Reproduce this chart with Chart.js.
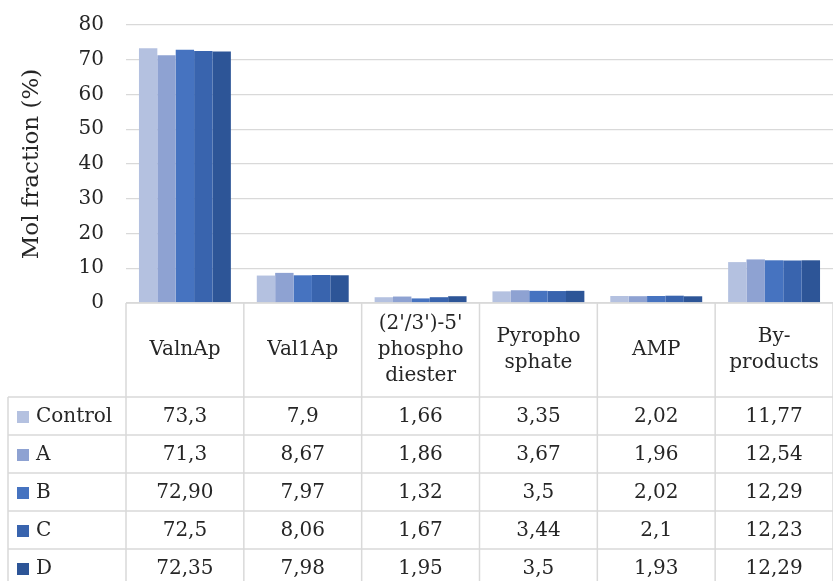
<!DOCTYPE html>
<html>
<head>
<meta charset="utf-8">
<script src="https://cdn.jsdelivr.net/npm/chart.js@4/dist/chart.umd.min.js"></script>
<style>
  html, body { margin: 0; padding: 0; background: #fff; }
  #wrap { width: 833px; height: 581px; }
</style>
</head>
<body>
<div id="wrap"><canvas id="chart"></canvas></div>
<script>
// categories (header lines of the table)
const categories = [
    ['ValnAp'],
    ['Val1Ap'],
    ["(2'/3')-5'", 'phospho', 'diester'],
    ['Pyropho', 'sphate'],
    ['AMP'],
    ['By-', 'products'],
];
const seriesNames = ['Control', 'A', 'B', 'C', 'D'];
const seriesColors = ['#b4c1e0', '#8ea2d2', '#4673c0', '#3964ae', '#2d5597'];

// values as printed in the table
const control = ['73,3', '7,9', '1,66', '3,35', '2,02', '11,77'];
const seriesA = ['71,3', '8,67', '1,86', '3,67', '1,96', '12,54'];
const seriesB = ['72,90', '7,97', '1,32', '3,5', '2,02', '12,29'];
const seriesC = ['72,5', '8,06', '1,67', '3,44', '2,1', '12,23'];
const seriesD = ['72,35', '7,98', '1,95', '3,5', '1,93', '12,29'];
const seriesText = [control, seriesA, seriesB, seriesC, seriesD];

const yTicks = [0, 10, 20, 30, 40, 50, 60, 70, 80];

const FONT = "'DejaVu Serif', serif";
const TEXT = '#262626';
const LINE = '#d9d9d9';

const toNum = s => parseFloat(s.replace(',', '.'));

const dataTable = {
    id: 'dataTable',
    afterDraw(chart) {
        const ctx = chart.ctx;
        const x = chart.scales.x;
        const area = chart.chartArea;
        const n = categories.length;
        const colW = (area.right - area.left) / n;
        const top = area.bottom;
        const headH = 94;
        const rowH = 38;
        const legendLeft = 8;
        const bottom = top + headH + rowH * 5 + 10;

        ctx.save();
        ctx.strokeStyle = LINE;
        ctx.lineWidth = 1.5;
        ctx.beginPath();
        // top border of header
        ctx.moveTo(area.left, top);
        ctx.lineTo(area.right, top);
        // column borders
        for (let i = 0; i <= n; i++) {
            const cx = area.left + colW * i;
            ctx.moveTo(cx, top);
            ctx.lineTo(cx, bottom);
        }
        ctx.moveTo(legendLeft, top + headH);
        ctx.lineTo(legendLeft, bottom);
        for (let r = 0; r <= 5; r++) {
            const ry = top + headH + rowH * r;
            ctx.moveTo(legendLeft, ry);
            ctx.lineTo(area.right, ry);
        }
        ctx.stroke();

        ctx.fillStyle = TEXT;
        ctx.font = '20px ' + FONT;
        ctx.textAlign = 'center';
        ctx.textBaseline = 'middle';
        const lh = 26;
        categories.forEach((lines, i) => {
            const cx = x.getPixelForValue(i);
            const y0 = top + headH / 2 - (lines.length - 1) * lh / 2;
            lines.forEach((t, k) => ctx.fillText(t, cx, y0 + k * lh));
        });

        seriesText.forEach((row, r) => {
            const cy = top + headH + rowH * r + rowH / 2 + 1;
            row.forEach((t, i) => {
                ctx.fillText(t, x.getPixelForValue(i), cy);
            });
            ctx.fillStyle = seriesColors[r];
            ctx.fillRect(17, cy - 6, 12, 12);
            ctx.fillStyle = TEXT;
            ctx.textAlign = 'left';
            ctx.fillText(seriesNames[r], 36, cy);
            ctx.textAlign = 'center';
        });
        ctx.restore();
    }
};

new Chart(document.getElementById('chart'), {
    type: 'bar',
    data: {
        labels: categories.map(c => c.join(' ')),
        datasets: seriesText.map((vals, i) => ({
            label: seriesNames[i],
            data: vals.map(toNum),
            backgroundColor: seriesColors[i],
            borderWidth: 0,
            categoryPercentage: 0.78,
            barPercentage: 1.0,
        })),
    },
    options: {
        responsive: true,
        maintainAspectRatio: false,
        animation: false,
        layout: { padding: { top: 25, bottom: 278, left: 0, right: 0 } },
        plugins: {
            legend: { display: false },
            tooltip: { enabled: false },
        },
        scales: {
            x: { display: false },
            y: {
                min: 0,
                max: 80,
                afterBuildTicks: s => { s.ticks = yTicks.map(v => ({ value: v })); },
                afterFit: s => {
                    s.width = 126;
                    s.paddingTop = 0;
                    s.paddingBottom = 0;
                },
                border: { display: false },
                grid: { color: LINE, lineWidth: 1.3, drawTicks: false },
                ticks: {
                    color: TEXT,
                    padding: 22,
                    font: { family: FONT, size: 20 },
                },
                title: {
                    display: true,
                    text: 'Mol fraction (%)',
                    color: TEXT,
                    font: { family: FONT, size: 23 },
                    padding: { top: 18, bottom: 0 },
                },
            },
        },
    },
    plugins: [dataTable],
});
</script>
</body>
</html>
